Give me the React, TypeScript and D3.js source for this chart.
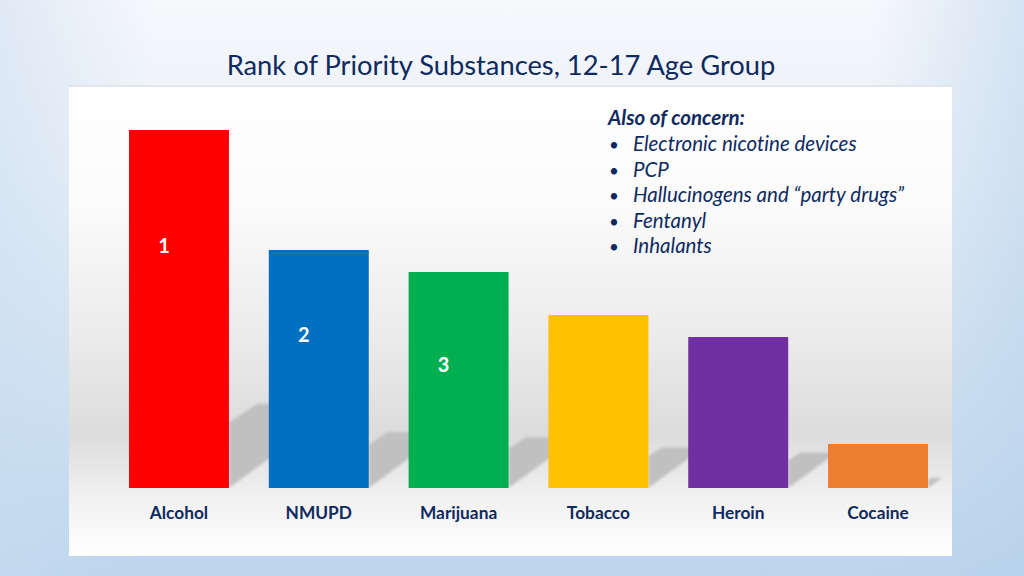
import React from "react";
import * as d3 from "d3";

const categories = ["Alcohol", "NMUPD", "Marijuana", "Tobacco", "Heroin", "Cocaine"];
const values = [358, 238, 216, 173, 151, 44];
const barColors = ["#ff0000", "#0070c0", "#00b050", "#ffc000", "#7030a0", "#ed7d31"];
const rankLabels = ["1", "2", "3"];
const rankLabelValues = [242, 153, 123];
const concernTitle = "Also of concern:";
const concernItems = [
  "Electronic nicotine devices",
  "PCP",
  "Hallucinogens and \u201cparty drugs\u201d",
  "Fentanyl",
  "Inhalants",
];
const title = "Rank of Priority Substances, 12-17 Age Group";

const W = 1024;
const H = 576;
const panel = { x: 69, y: 87, w: 883, h: 469 };
const plotLeft = 109;
const plotRight = 948;
const baseY = 488;
const topY = 130;
const navy = "#0f2a5e";

export default function App() {
  const x = d3.scaleBand<string>().domain(categories).range([plotLeft, plotRight]).paddingInner(0.285).paddingOuter(0.143);
  const y = d3.scaleLinear().domain([0, d3.max(values) as number]).range([baseY, topY]);

  const shadowPath = (i: number) => {
    const xr = (x(categories[i]) as number) + x.bandwidth();
    const h = (baseY - y(values[i])) * 0.235;
    const t = baseY - h;
    const pts: [number, number][] = [
      [xr, baseY],
      [xr, Math.min(baseY, t + 0.22 * h)],
      [xr + 0.34 * h, t],
      [xr + 1.36 * h, t],
    ];
    return d3.line()(pts) + "Z";
  };

  return (
    <svg
      width={W}
      height={H}
      style={{ position: "absolute", left: 0, top: 0, fontVariantLigatures: "none" }}
      fontFamily="Lato, sans-serif"
    >
      <defs>
        <linearGradient id="bg" x1="0" y1="0" x2="0" y2="1">
          <stop offset="0" stopColor="#f6f8fc" />
          <stop offset="0.3" stopColor="#e9f0f8" />
          <stop offset="1" stopColor="#bcd5ed" />
        </linearGradient>
        <linearGradient id="bgx" x1="0" y1="0" x2="1" y2="0">
          <stop offset="0" stopColor="#c8dcf0" stopOpacity="0.5" />
          <stop offset="0.15" stopColor="#c8dcf0" stopOpacity="0" />
          <stop offset="0.85" stopColor="#b5d0ea" stopOpacity="0" />
          <stop offset="1" stopColor="#b5d0ea" stopOpacity="0.5" />
        </linearGradient>
        <linearGradient id="panelGrad" x1="0" y1="0" x2="0" y2="1">
          <stop offset="0" stopColor="#ffffff" />
          <stop offset="0.25" stopColor="#fbfbfb" />
          <stop offset="0.55" stopColor="#eaeaea" />
          <stop offset="0.74" stopColor="#dcdcdc" />
          <stop offset="0.87" stopColor="#f0f0f0" />
          <stop offset="1" stopColor="#ffffff" />
        </linearGradient>
        <filter id="blur" x="-20%" y="-20%" width="140%" height="140%">
          <feGaussianBlur stdDeviation="1.5" />
        </filter>
      </defs>
      <rect x={0} y={0} width={W} height={H} fill="url(#bg)" />
      <rect x={0} y={0} width={W} height={H} fill="url(#bgx)" />
      <text x={501} y={75} textAnchor="middle" fontSize={27.3} fill={navy}>
        {title}
      </text>
      <rect x={panel.x} y={panel.y - 2} width={panel.w} height={2} fill="#dfe6ee" />
      <rect x={panel.x} y={panel.y} width={panel.w} height={panel.h} fill="url(#panelGrad)" />
      <g filter="url(#blur)">
        {categories.map((c, i) => (
          <path key={c} d={shadowPath(i)} fill="#c0c0c0" />
        ))}
      </g>
      {categories.map((c, i) => (
        <rect
          key={c}
          x={x(c) as number}
          y={y(values[i])}
          width={x.bandwidth()}
          height={baseY - y(values[i])}
          fill={barColors[i]}
        />
      ))}
      {rankLabels.map((r, i) => (
        <text
          key={r}
          x={(x(categories[i]) as number) + x.bandwidth() / 2 - 15}
          y={y(rankLabelValues[i]) + 7}
          textAnchor="middle"
          fontSize={20}
          fontWeight="bold"
          fill="#ffffff"
        >
          {r}
        </text>
      ))}
      {categories.map((c) => (
        <text
          key={c}
          x={(x(c) as number) + x.bandwidth() / 2}
          y={519}
          textAnchor="middle"
          fontSize={17.3}
          fontWeight="bold"
          fill={navy}
        >
          {c}
        </text>
      ))}
      <text x={608} y={125} fontSize={20.5} fontWeight="bold" fontStyle="italic" fill={navy}>
        {concernTitle}
      </text>
      {concernItems.map((s, i) => (
        <g key={s}>
          <text x={609} y={151 + i * 25.6} fontSize={17} fill={navy}>
            {"\u2022"}
          </text>
          <text x={633} y={151 + i * 25.6} fontSize={20.5} fontStyle="italic" fill={navy}>
            {s}
          </text>
        </g>
      ))}
    </svg>
  );
}
